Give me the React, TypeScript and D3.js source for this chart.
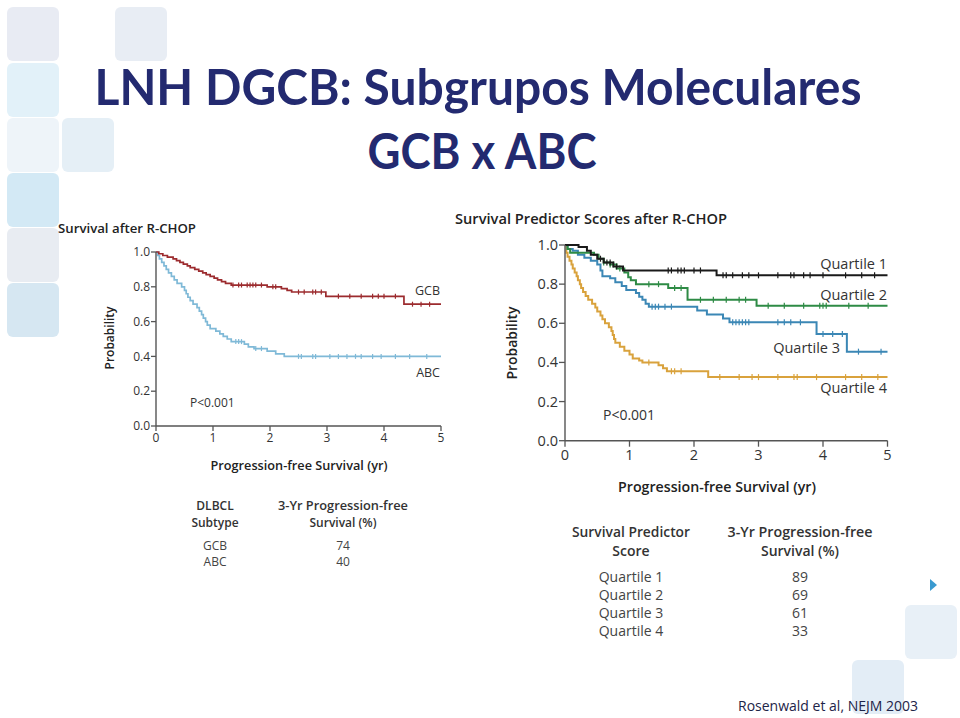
import React from 'react';
import * as d3 from 'd3';

// ---------- data ----------
const yearTicks = [0, 1, 2, 3, 4, 5];
const probTicks = [0, 0.2, 0.4, 0.6, 0.8, 1.0];

const gcbSteps: [number, number][] = [
  [0, 1.0], [0.05, 0.99], [0.12, 0.98], [0.2, 0.97], [0.3, 0.96], [0.36, 0.95], [0.42, 0.94],
  [0.48, 0.93], [0.55, 0.92], [0.6, 0.91], [0.68, 0.9], [0.75, 0.89], [0.82, 0.88], [0.88, 0.87],
  [0.95, 0.86], [1.02, 0.85], [1.08, 0.84], [1.15, 0.83], [1.22, 0.82], [1.32, 0.81], [1.95, 0.8],
  [2.2, 0.79], [2.3, 0.78], [2.38, 0.77], [2.98, 0.745], [4.35, 0.7],
];
const gcbCensor = [1.35, 1.45, 1.5, 1.6, 1.65, 1.7, 1.75, 1.85, 2.05, 2.1, 2.5, 2.6, 2.75, 2.8, 2.9, 3.2, 3.4, 3.6, 3.8, 3.9, 4.0, 4.2, 4.5, 4.65, 4.8];

const abcSteps: [number, number][] = [
  [0, 1.0], [0.03, 0.98], [0.06, 0.96], [0.1, 0.94], [0.14, 0.92], [0.18, 0.9], [0.22, 0.88],
  [0.27, 0.86], [0.32, 0.84], [0.37, 0.82], [0.45, 0.8], [0.5, 0.78], [0.53, 0.76], [0.56, 0.74],
  [0.6, 0.72], [0.65, 0.7], [0.72, 0.68], [0.76, 0.66], [0.8, 0.64], [0.83, 0.62], [0.87, 0.6],
  [0.9, 0.58], [0.95, 0.56], [1.05, 0.545], [1.12, 0.53], [1.18, 0.515], [1.25, 0.5], [1.32, 0.485],
  [1.55, 0.47], [1.62, 0.455], [1.72, 0.445], [1.95, 0.43], [2.1, 0.415], [2.25, 0.4],
];
const abcCensor = [1.4, 1.45, 1.5, 1.75, 1.85, 2.5, 2.55, 2.75, 2.8, 3.05, 3.2, 3.35, 3.5, 3.6, 3.8, 3.95, 4.2, 4.45, 4.75];

const q1Steps: [number, number][] = [
  [0, 1.0], [0.21, 0.99], [0.34, 0.97], [0.4, 0.95], [0.5, 0.93], [0.6, 0.91], [0.75, 0.89],
  [0.9, 0.87], [2.35, 0.845],
];
const q1Censor = [0.55, 0.65, 0.7, 0.8, 1.6, 1.65, 1.75, 1.8, 1.85, 2.0, 2.1, 2.45, 2.5, 2.6, 2.75, 2.85, 3.0, 3.3, 3.5, 3.55, 3.7, 3.8, 4.0, 4.35, 4.6, 4.8];

const q2Steps: [number, number][] = [
  [0, 1.0], [0.04, 0.98], [0.08, 0.96], [0.45, 0.95], [0.52, 0.93], [0.6, 0.91], [0.7, 0.9],
  [0.8, 0.88], [0.92, 0.86], [0.98, 0.835], [1.02, 0.82], [1.1, 0.8], [1.6, 0.78], [1.9, 0.72], [2.97, 0.69],
];
const q2Censor = [0.6, 0.7, 0.75, 0.85, 1.3, 1.45, 1.7, 1.8, 2.1, 2.3, 2.5, 2.7, 2.8, 3.15, 3.4, 3.7, 3.95, 4.0, 4.05, 4.4, 4.7];

const q3Steps: [number, number][] = [
  [0, 1.0], [0.04, 0.98], [0.12, 0.97], [0.2, 0.95], [0.3, 0.935], [0.4, 0.92], [0.5, 0.9],
  [0.55, 0.87], [0.58, 0.84], [0.7, 0.83], [0.78, 0.81], [0.88, 0.79], [0.95, 0.77], [1.1, 0.755],
  [1.15, 0.735], [1.2, 0.72], [1.25, 0.7], [1.3, 0.685], [2.05, 0.665], [2.2, 0.645], [2.45, 0.625],
  [2.55, 0.605], [3.9, 0.545], [4.37, 0.455],
];
const q3Censor = [1.35, 1.4, 1.45, 1.55, 1.65, 2.6, 2.65, 2.7, 2.75, 2.8, 2.85, 3.3, 3.4, 3.5, 3.65, 4.0, 4.15, 4.3, 4.55, 4.9];

const q4Steps: [number, number][] = [
  [0, 1.0], [0.02, 0.96], [0.04, 0.94], [0.07, 0.92], [0.1, 0.9], [0.12, 0.88], [0.15, 0.86],
  [0.18, 0.84], [0.2, 0.82], [0.23, 0.8], [0.25, 0.78], [0.28, 0.76], [0.32, 0.74], [0.36, 0.72],
  [0.42, 0.7], [0.47, 0.68], [0.5, 0.66], [0.55, 0.64], [0.58, 0.62], [0.62, 0.6], [0.68, 0.58],
  [0.72, 0.56], [0.74, 0.54], [0.76, 0.52], [0.78, 0.5], [0.85, 0.48], [0.92, 0.46], [1.0, 0.44],
  [1.05, 0.42], [1.15, 0.41], [1.2, 0.4], [1.45, 0.385], [1.52, 0.37], [1.58, 0.355], [2.22, 0.325],
];
const q4Censor = [1.3, 1.65, 1.7, 1.8, 2.4, 2.7, 2.9, 3.0, 3.3, 3.55, 3.6, 3.9, 4.35, 4.6, 4.85];

const subtypeRows = ['GCB', 'ABC'];
const subtypePfs = [74, 40];
const quartileRows = ['Quartile 1', 'Quartile 2', 'Quartile 3', 'Quartile 4'];
const quartilePfs = [89, 69, 61, 33];

// ---------- helpers ----------
const FONT = "'Open Sans', 'Noto Sans', sans-serif";
const TITLE_FONT = "Lato, 'Open Sans', sans-serif";

function survAt(steps: [number, number][], t: number) {
  let s = steps[0][1];
  for (const [tt, v] of steps) if (tt <= t) s = v;
  return s;
}

type Curve = { steps: [number, number][]; censor: number[]; color: string };

function KMPanel(props: {
  x0: number; x1: number; yBottom: number; yTop: number;
  curves: Curve[]; fs: number; lw: number; tick: number; cens: number;
}) {
  const { x0, x1, yBottom, yTop, curves, fs, lw, tick, cens } = props;
  const x = d3.scaleLinear().domain([0, 5]).range([x0, x1]);
  const y = d3.scaleLinear().domain([0, 1]).range([yBottom, yTop]);
  const line = d3.line<[number, number]>().x(d => x(d[0])).y(d => y(d[1])).curve(d3.curveStepAfter);
  const axisColor = '#555';
  return (
    <g>
      {curves.map((c, i) => {
        const pts: [number, number][] = [...c.steps, [5, c.steps[c.steps.length - 1][1]]];
        return (
          <g key={i}>
            <path d={line(pts) || ''} fill="none" stroke={c.color} strokeWidth={lw} />
            {c.censor.map((t, j) => (
              <line key={j} x1={x(t)} x2={x(t)} y1={y(survAt(c.steps, t)) - cens} y2={y(survAt(c.steps, t)) + cens}
                stroke={c.color} strokeWidth={1.2} />
            ))}
          </g>
        );
      })}
      <line x1={x0} x2={x0} y1={yTop} y2={yBottom} stroke={axisColor} strokeWidth={1.4} />
      <line x1={x0} x2={x1} y1={yBottom} y2={yBottom} stroke={axisColor} strokeWidth={1.4} />
      {probTicks.map(p => (
        <g key={p}>
          <line x1={x0 - tick} x2={x0} y1={y(p)} y2={y(p)} stroke={axisColor} strokeWidth={1.3} />
          <text x={x0 - tick - 1} y={y(p)} dy="0.35em" textAnchor="end" fontSize={fs} fill="#333" fontFamily={FONT}>
            {p.toFixed(1)}
          </text>
        </g>
      ))}
      {yearTicks.map(t => (
        <g key={t}>
          <line x1={x(t)} x2={x(t)} y1={yBottom} y2={yBottom + tick} stroke={axisColor} strokeWidth={1.3} />
          <text x={x(t)} y={yBottom + tick + fs * 0.95} textAnchor="middle" fontSize={fs} fill="#333" fontFamily={FONT}>
            {t}
          </text>
        </g>
      ))}
    </g>
  );
}

const squares = [
  { x: 7, y: 7, c: '#e8ebf3' }, { x: 7, y: 63, c: '#e2f1f9' }, { x: 7, y: 118, c: '#eef4f9' },
  { x: 7, y: 173, c: '#d3e9f5' }, { x: 7, y: 228, c: '#e8ecf2' }, { x: 7, y: 283, c: '#d6e7f2' },
  { x: 62, y: 118, c: '#e5eff6' }, { x: 115, y: 7, c: '#e8edf4' },
  { x: 905, y: 605, c: '#e8f0f7' }, { x: 852, y: 660, c: '#e3edf6' },
];

export default function App() {
  const red = '#9c2b2e';
  const lightBlue = '#7fb9d7';
  return (
    <svg width={960} height={718} style={{ position: 'absolute', left: 0, top: 0, background: '#fff' }}>
      <rect width={960} height={718} fill="#fff" />
      {squares.map((s, i) => (
        <rect key={i} x={s.x} y={s.y} width={52} height={54} rx={6} fill={s.c} />
      ))}
      <path d="M930,579 L937,585 L930,591 Z" fill="#3a9ad0" />

      {/* Title */}
      <text x={478} y={105} textAnchor="middle" fontFamily={TITLE_FONT} fontWeight={700} fontSize={50}
        fill="#232a70" textLength={767} lengthAdjust="spacingAndGlyphs">LNH DGCB: Subgrupos Moleculares</text>
      <text x={482} y={169} textAnchor="middle" fontFamily={TITLE_FONT} fontWeight={700} fontSize={50}
        fill="#232a70" textLength={229} lengthAdjust="spacingAndGlyphs">GCB x ABC</text>

      {/* Left panel */}
      <text x={58} y={233} fontFamily={FONT} fontWeight={600} fontSize={13} fill="#222"
        textLength={138} lengthAdjust="spacingAndGlyphs">Survival after R-CHOP</text>
      <KMPanel x0={156} x1={441} yBottom={426} yTop={252} fs={12} lw={1.7} tick={5} cens={2.5}
        curves={[
          { steps: abcSteps, censor: abcCensor, color: lightBlue },
          { steps: gcbSteps, censor: gcbCensor, color: red },
        ]} />
      <text transform="translate(114,338) rotate(-90)" textAnchor="middle" fontFamily={FONT} fontWeight={600}
        fontSize={13} fill="#222" textLength={63} lengthAdjust="spacingAndGlyphs">Probability</text>
      <text x={299} y={470} textAnchor="middle" fontFamily={FONT} fontWeight={600} fontSize={13} fill="#222"
        textLength={177} lengthAdjust="spacingAndGlyphs">Progression-free Survival (yr)</text>
      <text x={190} y={407} fontFamily={FONT} fontSize={12} fill="#333">P&lt;0.001</text>
      <text x={440} y={295} textAnchor="end" fontFamily={FONT} fontSize={12.5} fill="#333">GCB</text>
      <text x={440} y={377} textAnchor="end" fontFamily={FONT} fontSize={12.5} fill="#333">ABC</text>

      {/* Left table */}
      <g fontFamily={FONT} fill="#333" textAnchor="middle">
        <text x={215} y={510} fontWeight={600} fontSize={12}>DLBCL</text>
        <text x={215} y={527} fontWeight={600} fontSize={12}>Subtype</text>
        <text x={343} y={510} fontWeight={600} fontSize={12} textLength={130} lengthAdjust="spacingAndGlyphs">3-Yr Progression-free</text>
        <text x={343} y={527} fontWeight={600} fontSize={12}>Survival (%)</text>
        {subtypeRows.map((r, i) => (
          <g key={r}>
            <text x={215} y={550 + i * 16} fontSize={12} fill="#444">{r}</text>
            <text x={343} y={550 + i * 16} fontSize={12} fill="#444">{subtypePfs[i]}</text>
          </g>
        ))}
      </g>

      {/* Right panel */}
      <text x={455} y={224} fontFamily={FONT} fontWeight={600} fontSize={15} fill="#222"
        textLength={272} lengthAdjust="spacingAndGlyphs">Survival Predictor Scores after R-CHOP</text>
      <KMPanel x0={565} x1={887.5} yBottom={440.7} yTop={245} fs={14.5} lw={2} tick={6} cens={3}
        curves={[
          { steps: q4Steps, censor: q4Censor, color: '#d9a23c' },
          { steps: q3Steps, censor: q3Censor, color: '#3b87b5' },
          { steps: q2Steps, censor: q2Censor, color: '#2e8b45' },
          { steps: q1Steps, censor: q1Censor, color: '#1a1a1a' },
        ]} />
      <text transform="translate(517,343) rotate(-90)" textAnchor="middle" fontFamily={FONT} fontWeight={600}
        fontSize={15} fill="#222" textLength={73} lengthAdjust="spacingAndGlyphs">Probability</text>
      <text x={717} y={492} textAnchor="middle" fontFamily={FONT} fontWeight={600} fontSize={15} fill="#222"
        textLength={198} lengthAdjust="spacingAndGlyphs">Progression-free Survival (yr)</text>
      <text x={603} y={420} fontFamily={FONT} fontSize={14} fill="#333">P&lt;0.001</text>
      <text x={887} y={269} textAnchor="end" fontFamily={FONT} fontSize={14.5} fill="#333">Quartile 1</text>
      <text x={887} y={300} textAnchor="end" fontFamily={FONT} fontSize={14.5} fill="#333">Quartile 2</text>
      <text x={840} y={353} textAnchor="end" fontFamily={FONT} fontSize={14.5} fill="#333">Quartile 3</text>
      <text x={887} y={393} textAnchor="end" fontFamily={FONT} fontSize={14.5} fill="#333">Quartile 4</text>

      {/* Right table */}
      <g fontFamily={FONT} fill="#333" textAnchor="middle">
        <text x={631} y={537} fontWeight={600} fontSize={14} textLength={118} lengthAdjust="spacingAndGlyphs">Survival Predictor</text>
        <text x={631} y={556} fontWeight={600} fontSize={14}>Score</text>
        <text x={800} y={537} fontWeight={600} fontSize={14} textLength={145} lengthAdjust="spacingAndGlyphs">3-Yr Progression-free</text>
        <text x={800} y={556} fontWeight={600} fontSize={14}>Survival (%)</text>
        {quartileRows.map((r, i) => (
          <g key={r}>
            <text x={631} y={582 + i * 18} fontSize={14} fill="#444">{r}</text>
            <text x={800} y={582 + i * 18} fontSize={14} fill="#444">{quartilePfs[i]}</text>
          </g>
        ))}
      </g>

      <text x={738} y={711} fontFamily={FONT} fontSize={15} fill="#1d2448"
        textLength={180} lengthAdjust="spacingAndGlyphs">Rosenwald et al, NEJM 2003</text>
    </svg>
  );
}
